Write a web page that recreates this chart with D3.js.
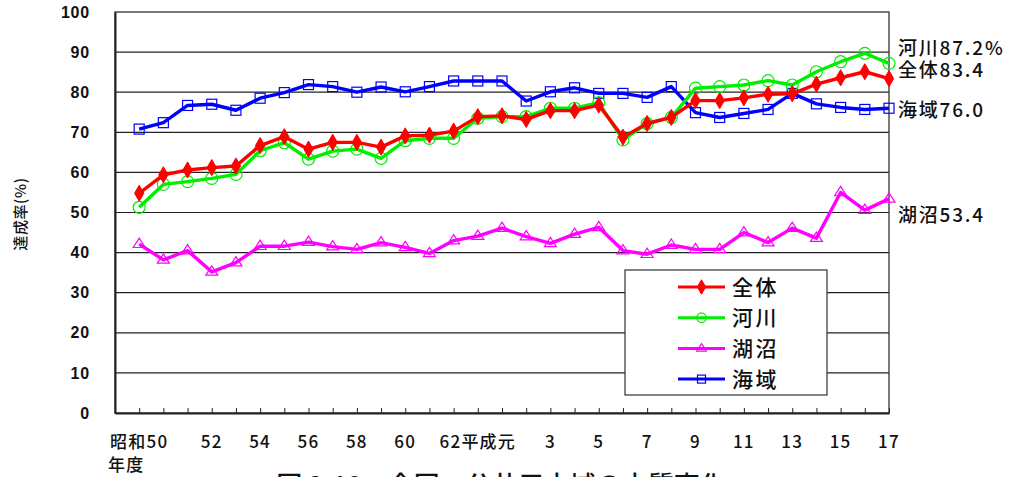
<!DOCTYPE html>
<html><head><meta charset="utf-8">
<script src="https://cdn.jsdelivr.net/npm/d3@7"></script>
<style>
html,body{margin:0;padding:0;background:#fff;}
svg{display:block;font-family:"Noto Sans CJK JP","Noto Sans",sans-serif;}
</style></head>
<body>
<script>
// categories: 昭和49年度 .. 平成17年度
const years = ["S49","S50","S51","S52","S53","S54","S55","S56","S57","S58","S59","S60","S61","S62","S63",
  "H1","H2","H3","H4","H5","H6","H7","H8","H9","H10","H11","H12","H13","H14","H15","H16","H17"];
const zentai = [54.8,59.4,60.6,61.2,61.6,66.7,68.9,65.8,67.5,67.5,66.3,69.1,69.3,70.3,73.9,74.1,73.2,75.4,75.4,76.8,68.8,72.2,73.7,77.9,77.9,78.6,79.5,79.6,82.0,83.6,85.1,83.4];
const kasen  = [51.3,57.0,57.7,58.5,59.5,65.4,67.4,63.3,65.3,65.8,63.5,67.9,68.5,68.5,73.5,73.9,73.9,76.0,76.0,77.4,68.1,72.2,73.7,81.0,81.4,81.8,82.9,81.8,85.1,87.6,89.7,87.2];
const koshou = [42.1,38.2,40.5,35.2,37.5,41.6,41.6,42.6,41.5,40.8,42.5,41.3,39.8,43.0,44.1,46.1,44.0,42.3,44.6,46.3,40.5,39.6,41.9,40.8,40.8,45.0,42.5,46.1,43.6,55.0,50.6,53.4];
const kaiiki = [70.8,72.4,76.7,77.0,75.5,78.5,79.9,81.9,81.4,80.0,81.3,80.1,81.4,82.8,82.8,82.8,77.8,80.1,81.1,79.7,79.7,78.7,81.4,74.9,73.7,74.7,75.7,79.7,77.1,76.2,75.7,76.0];
const seriesNames = ["全体","河川","湖沼","海域"];
const endLabels = ["全体83.4","河川87.2%","湖沼53.4","海域76.0"];
const xTickLabels = [["S49","昭和50"],["S52","52"],["S54","54"],["S56","56"],["S58","58"],["S60","60"],["S63","62平成元"],
  ["H3","3"],["H5","5"],["H7","7"],["H9","9"],["H11","11"],["H13","13"],["H15","15"],["H17","17"]];
const yTicks = [0,10,20,30,40,50,60,70,80,90,100];
const yTitle = "達成率(%)";
const title = "図 3-10　全国　公共用水域の水質変化";

const W = 1018, H = 477;
const svg = d3.select("body").append("svg").attr("width", W).attr("height", H);
const pL = 115, pR = 889, pT = 12, pB = 413;

// leading blank slot so points sit on ticks one step in from the left edge
const x = d3.scalePoint().domain(["_"].concat(years)).range([pL, pR]);
const y = d3.scaleLinear().domain([0, 100]).range([pB, pT]);

// gridlines
svg.append("g").selectAll("line").data(yTicks.filter(v => v > 0 && v < 100)).join("line")
  .attr("x1", pL).attr("x2", pR).attr("y1", d => y(d)).attr("y2", d => y(d))
  .attr("stroke", "#222").attr("stroke-width", 1.2);
// frame
svg.append("rect").attr("x", pL).attr("y", pT).attr("width", pR - pL).attr("height", pB - pT)
  .attr("fill", "none").attr("stroke", "#333").attr("stroke-width", 1.3);

// y axis
const yAxis = d3.axisLeft(y).tickValues(yTicks).tickSize(0).tickPadding(25);
const gy = svg.append("g").attr("transform", `translate(${pL},0)`).call(yAxis);
gy.select(".domain").attr("stroke", "#222").attr("stroke-width", 2);
gy.selectAll("text").attr("font-size", 16).attr("fill", "#111")
  .attr("font-family", "Liberation Sans, Arial, sans-serif").attr("font-weight", "bold").attr("letter-spacing", 0.8);

// x axis ticks
const xAxis = d3.axisBottom(x).tickSizeInner(-5).tickSizeOuter(0).tickFormat("");
const gx = svg.append("g").attr("transform", `translate(0,${pB})`).call(xAxis);
gx.select(".domain").attr("stroke", "#222").attr("stroke-width", 2);
gx.selectAll(".tick line").attr("stroke", "#222");
// x tick labels
svg.append("g").selectAll("text").data(xTickLabels).join("text")
  .attr("x", d => x(d[0])).attr("y", 448).attr("text-anchor", "middle")
  .attr("font-size", 17).attr("letter-spacing", 1.2).attr("font-weight", 500).attr("fill", "#111").text(d => d[1]);
svg.append("text").attr("x", 108).attr("y", 471).attr("font-size", 17).attr("letter-spacing", 1.2)
  .attr("font-weight", 500).attr("fill", "#111").text("年度");

// y title
svg.append("text").attr("transform", "translate(26,214) rotate(-90)").attr("text-anchor", "middle")
  .attr("font-size", 15).attr("letter-spacing", 0.6).attr("font-weight", 500).attr("fill", "#111").text(yTitle);

// series
const colors = ["#ff0000", "#00ee00", "#ff00ff", "#0000ff"];
const data = [zentai, kasen, koshou, kaiiki];
const line = d3.line().x((d, i) => x(years[i])).y(d => y(d));
const order = [2, 3, 1, 0];
function marker(g, k, cx, cy, scale) {
  const s = scale || 1;
  if (k === 0) {
    g.append("path").attr("d", d3.symbol(d3.symbolDiamond, 75 * s)())
      .attr("transform", `translate(${cx},${cy})`).attr("fill", colors[0]).attr("stroke", colors[0]);
  } else if (k === 1) {
    g.append("circle").attr("cx", cx).attr("cy", cy).attr("r", 6 * s)
      .attr("fill", "none").attr("stroke", colors[1]).attr("stroke-width", 1.2);
  } else if (k === 2) {
    const r = 6 * s;
    g.append("path").attr("d", `M${cx},${cy - r}L${cx + r},${cy + r * 0.55}L${cx - r},${cy + r * 0.55}Z`)
      .attr("fill", "none").attr("stroke", colors[2]).attr("stroke-width", 1.2);
  } else {
    const r = 5 * s;
    g.append("rect").attr("x", cx - r).attr("y", cy - r).attr("width", 2 * r).attr("height", 2 * r)
      .attr("fill", "none").attr("stroke", colors[3]).attr("stroke-width", 1.2);
  }
}
order.forEach(k => {
  const g = svg.append("g");
  g.append("path").datum(data[k]).attr("d", line).attr("fill", "none")
    .attr("stroke", colors[k]).attr("stroke-width", 3.4).attr("stroke-linejoin", "round");
  data[k].forEach((v, i) => marker(g, k, x(years[i]), y(v)));
});

// end labels
const endY = [77, 55, 222, 117];
svg.append("g").selectAll("text").data(endLabels).join("text")
  .attr("x", 898).attr("y", (d, i) => endY[i]).attr("font-size", 19).attr("letter-spacing", 1.8)
  .attr("font-weight", 500).attr("fill", "#111").text(d => d);

// legend
const lg = svg.append("g");
lg.append("rect").attr("x", 625).attr("y", 270).attr("width", 202).attr("height", 125)
  .attr("fill", "#fff").attr("stroke", "#333").attr("stroke-width", 1.2);
seriesNames.forEach((n, k) => {
  const ly = 287 + k * 30.7;
  lg.append("line").attr("x1", 678).attr("x2", 725).attr("y1", ly).attr("y2", ly)
    .attr("stroke", colors[k]).attr("stroke-width", 3);
  marker(lg, k, 701.5, ly, 0.8);
  lg.append("text").attr("x", 732).attr("y", ly + 7.5).attr("font-size", 21).attr("letter-spacing", 2.5)
    .attr("font-weight", 500).attr("fill", "#111").text(n);
});

// title (partly cut off at bottom, as in the original)
svg.append("text").attr("x", 501).attr("y", 495).attr("text-anchor", "middle")
  .attr("font-size", 26).attr("font-weight", 500).attr("fill", "#111").text(title);
</script>
</body></html>
